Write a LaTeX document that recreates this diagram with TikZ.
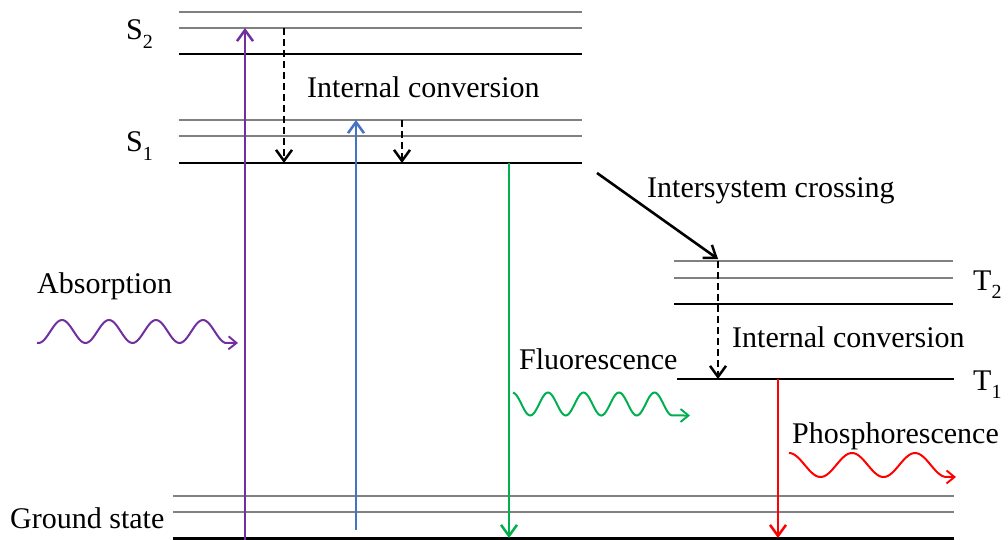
\documentclass[tikz,border=0pt]{standalone}
\usepackage{fontspec}
\setmainfont{Liberation Serif}
\usetikzlibrary{arrows.meta}
\definecolor{absorbc}{RGB}{112,48,160}
\definecolor{bluec}{RGB}{68,114,196}
\definecolor{fluorc}{RGB}{0,176,80}
\definecolor{phosc}{RGB}{255,0,0}
\definecolor{levgray}{RGB}{128,128,128}
\newcommand{\lvl}[2]{#1\raisebox{-0.28em}{\fontsize{20}{20}\selectfont #2}}
\tikzset{
  blk/.style={line width=2.8pt, black},
  gry/.style={line width=2.6pt, levgray},
  tr/.style={line width=2.6pt, -{Straight Barb[length=11pt,width=16pt,line width=2.5pt]}},
  dsh/.style={line width=2.6pt, dash pattern=on 7pt off 4pt, -{Straight Barb[length=11pt,width=16pt,line width=2.5pt]}},
  wav/.style={line width=2pt, -{Straight Barb[length=8pt,width=13pt,line width=1.9pt]}},
  lbl/.style={anchor=base west, inner sep=0pt, font=\fontsize{30}{36}\selectfont}
}
\begin{document}
\begin{tikzpicture}[x=1pt,y=-1pt]
\useasboundingbox (0,0) rectangle (1008,540);
% S2
\draw[gry] (179,12) -- (582,12);
\draw[gry] (179,28) -- (582,28);
\draw[blk] (179,54) -- (582,54);
% S1
\draw[gry] (179,120) -- (582,120);
\draw[gry] (179,136) -- (582,136);
\draw[blk] (179,163) -- (582,163);
% T2
\draw[gry] (674,261) -- (953,261);
\draw[gry] (674,278) -- (953,278);
\draw[blk] (674,304) -- (953,304);
% T1
\draw[blk] (677,379) -- (954,379);
% Ground
\draw[gry] (173,496) -- (954,496);
\draw[gry] (173,512) -- (954,512);
\draw[blk] (173,538.6) -- (954,538.6);

% labels
\node[lbl] (s2) at (126,40) {\lvl{S}{2}};
\node[lbl] (s1) at (126,152) {\lvl{S}{1}};
\node[lbl] (t2) at (973,290) {\lvl{T}{2}};
\node[lbl] (t1) at (973,390) {\lvl{T}{1}};
\node[lbl] (gs) at (10,528) {Ground state};
\node[lbl] (ic1) at (307,98) {Internal conversion};
\node[lbl] (isc) at (647,197) {Intersystem crossing};
\node[lbl] (ic2) at (732,347) {Internal conversion};
\node[lbl] (fl) at (519,369) {Fluorescence};
\node[lbl] (ph) at (792,443) {Phosphorescence};
\node[lbl] (ab) at (37,293) {Absorption};

% coordinates for transitions
\coordinate (pa0) at (245,540);
\coordinate (pa1) at (245,28);
\coordinate (bl0) at (356,530);
\coordinate (bl1) at (356,120);
\coordinate (gr0) at (509,163);
\coordinate (gr1) at (509,538);
\coordinate (rd0) at (778,379);
\coordinate (rd1) at (778,538);
\coordinate (d10) at (284,28);
\coordinate (d11) at (284,163);
\coordinate (d20) at (402,120);
\coordinate (d21) at (402,163);
\coordinate (d30) at (718,261);
\coordinate (d31) at (718,379);
\coordinate (is0) at (597,173);
\coordinate (is1) at (718,259);

\draw[tr, absorbc] (pa0) -- (pa1);
\draw[tr, bluec] (bl0) -- (bl1);
\draw[tr, fluorc] (gr0) -- (gr1);
\draw[tr, phosc] (rd0) -- (rd1);
\draw[dsh] (d10) -- (d11);
\draw[dsh] (d20) -- (d21);
\draw[dsh] (d30) -- (d31);
\draw[tr] (is0) -- (is1);

% waves
\draw[wav, absorbc] plot[domain=37:225, samples=100, smooth] (\x, {331.5-11.5*cos(7.6596*(\x-62))}) -- (238,343);
\draw[wav, fluorc] plot[domain=513:672, samples=100, smooth] (\x, {404-11.5*cos(10.1408*(\x-548))}) -- (690,415.5);
\draw[wav, phosc] plot[domain=789:946, samples=100, smooth] (\x, {465-12*cos(5.7143*(\x-789))}) -- (956,477);
\end{tikzpicture}
\end{document}
